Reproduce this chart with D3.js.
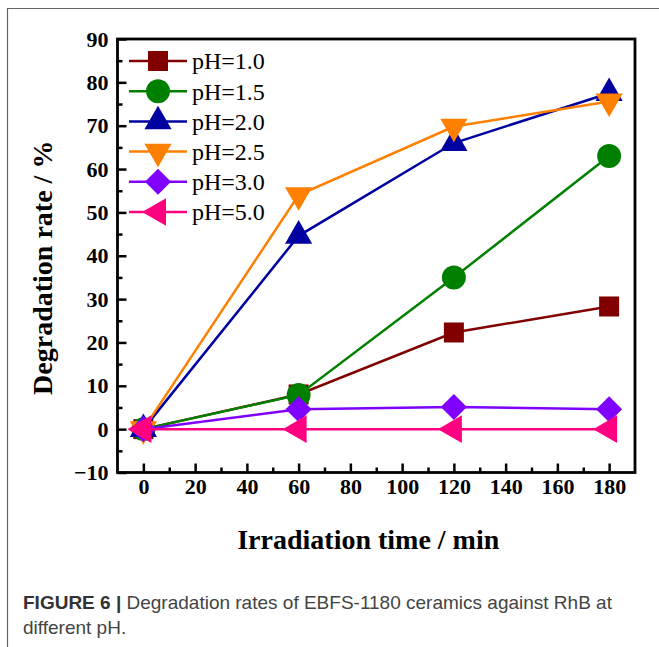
<!DOCTYPE html>
<html lang="en">
<head>
<meta charset="UTF-8">
<title>Degradation rate vs irradiation time</title>
<script src="https://d3js.org/d3.v7.min.js"></script>
<style>
    body { margin: 0; background: #fff; }
    svg { display: block; }
    .tick text { font-family: "Liberation Serif", "Times New Roman", serif; font-weight: bold; font-size: 22px; fill: #000; }
    .tick line { stroke: #000; stroke-width: 2.5; }
    .axis-title { font-family: "Liberation Serif", "Times New Roman", serif; font-weight: bold; font-size: 28px; }
    .legend text { font-family: "Liberation Serif", "Times New Roman", serif; font-size: 24px; }
    .caption { font-family: "Liberation Sans", Arial, sans-serif; font-size: 19px; fill: #444; }
</style>
</head>
<body>
<div id="chart"></div>
<script>
// data
var times = [0, 60, 120, 180];
var labels = ["pH=1.0", "pH=1.5", "pH=2.0", "pH=2.5", "pH=3.0", "pH=5.0"];
var ph10 = [0, 8, 22.3, 28.3];
var ph15 = [0, 7.9, 35, 63];
var ph20 = [0, 44.6, 66, 77.5];
var ph25 = [0, 54, 69.8, 75.6];
var ph30 = [0, 4.6, 5.1, 4.6];
var ph50 = [0, 0, 0, 0];
var xTicks = [0, 20, 40, 60, 80, 100, 120, 140, 160, 180];
var yTicks = [-10, 0, 10, 20, 30, 40, 50, 60, 70, 80, 90];

var width = 659, height = 647;
var plotLeft = 117.5, plotRight = 635, plotTop = 39, plotBottom = 472.5;

var series = [
    { name: labels[0], values: ph10, color: "#800000", shape: "square" },
    { name: labels[1], values: ph15, color: "#008000", shape: "circle" },
    { name: labels[2], values: ph20, color: "#0000a0", shape: "up" },
    { name: labels[3], values: ph25, color: "#ff8000", shape: "down" },
    { name: labels[4], values: ph30, color: "#8000ff", shape: "diamond" },
    { name: labels[5], values: ph50, color: "#ff0080", shape: "left" }
];

var svg = d3.select("#chart").append("svg")
    .attr("width", width)
    .attr("height", height);

svg.append("rect").attr("width", width).attr("height", height).attr("fill", "#fff");

// outer figure frame (top and left edges only visible)
svg.append("path")
    .attr("d", "M7.5," + height + "V8.5H" + width)
    .attr("fill", "none")
    .attr("stroke", "#666")
    .attr("stroke-width", 1.2);

var x = d3.scaleLinear().domain([-10, 190]).range([plotLeft, plotRight]);
var y = d3.scaleLinear().domain([-10, 90]).range([plotBottom, plotTop]);

// minor ticks
var xMinor = d3.range(10, 190, 20);
var yMinor = d3.range(-5, 90, 10);

svg.append("g")
    .attr("transform", "translate(0," + plotBottom + ")")
    .call(d3.axisBottom(x).tickValues(xMinor).tickSizeInner(-5).tickSizeOuter(0).tickFormat(""))
    .call(function(g) { g.select(".domain").remove(); });

svg.append("g")
    .attr("transform", "translate(" + plotLeft + ",0)")
    .call(d3.axisLeft(y).tickValues(yMinor).tickSizeInner(-5).tickSizeOuter(0).tickFormat(""))
    .call(function(g) { g.select(".domain").remove(); });

svg.append("g")
    .attr("transform", "translate(0," + plotBottom + ")")
    .call(d3.axisBottom(x).tickValues(xTicks).tickSizeInner(-9).tickSizeOuter(0).tickPadding(6))
    .call(function(g) { g.select(".domain").remove(); });

svg.append("g")
    .attr("transform", "translate(" + plotLeft + ",0)")
    .call(d3.axisLeft(y).tickValues(yTicks).tickSizeInner(-9).tickSizeOuter(0).tickPadding(9))
    .call(function(g) { g.select(".domain").remove(); });

// plot frame
svg.append("rect")
    .attr("x", plotLeft).attr("y", plotTop)
    .attr("width", plotRight - plotLeft).attr("height", plotBottom - plotTop)
    .attr("fill", "none")
    .attr("stroke", "#000")
    .attr("stroke-width", 2.8);

function marker(shape) {
    switch (shape) {
        case "square": return d3.symbol().type(d3.symbolSquare).size(400)();
        case "circle": return d3.symbol().type(d3.symbolCircle).size(450)();
        case "up": return d3.symbol().type(d3.symbolTriangle).size(320)();
        case "down": return d3.symbol().type(d3.symbolTriangle).size(320)();
        case "diamond": return d3.symbol().type(d3.symbolSquare).size(340)();
        case "left": return d3.symbol().type(d3.symbolTriangle).size(330)();
    }
}
var rotation = { square: 0, circle: 0, up: 0, down: 180, diamond: 45, left: -90 };

var line = d3.line()
    .x(function(d, i) { return x(times[i]); })
    .y(function(d) { return y(d); });

series.forEach(function(s) {
    var g = svg.append("g");
    g.append("path")
        .attr("d", line(s.values))
        .attr("fill", "none")
        .attr("stroke", s.color)
        .attr("stroke-width", 2.5);
    g.selectAll("path.mk")
        .data(s.values)
        .enter().append("path")
        .attr("class", "mk")
        .attr("d", marker(s.shape))
        .attr("fill", s.color)
        .attr("transform", function(d, i) {
            return "translate(" + x(times[i]) + "," + y(d) + ") rotate(" + rotation[s.shape] + ")";
        });
});

// legend
var legend = svg.selectAll(".legend")
    .data(series)
    .enter().append("g")
    .attr("class", "legend")
    .attr("transform", function(d, i) { return "translate(129," + (61 + i * 30.2) + ")"; });

legend.append("line")
    .attr("x1", 0).attr("x2", 58)
    .attr("stroke", function(d) { return d.color; })
    .attr("stroke-width", 2.5);

legend.append("path")
    .attr("d", function(d) { return marker(d.shape); })
    .attr("fill", function(d) { return d.color; })
    .attr("transform", function(d) { return "translate(29,0) rotate(" + rotation[d.shape] + ")"; });

legend.append("text")
    .attr("x", 63)
    .attr("dy", "0.35em")
    .text(function(d) { return d.name; });

// axis titles
svg.append("text")
    .attr("class", "axis-title")
    .attr("x", (plotLeft + plotRight) / 2 - 8)
    .attr("y", 549)
    .attr("text-anchor", "middle")
    .text("Irradiation time / min");

svg.append("text")
    .attr("class", "axis-title")
    .attr("transform", "translate(52," + ((plotTop + plotBottom) / 2 + 12) + ") rotate(-90)")
    .attr("text-anchor", "middle")
    .text("Degradation rate / %");

// caption
var cap = svg.append("text").attr("class", "caption").attr("x", 23).attr("y", 609);
cap.append("tspan").attr("font-weight", "bold").attr("fill", "#333").text("FIGURE 6 | ");
cap.append("tspan").text("Degradation rates of EBFS-1180 ceramics against RhB at");
svg.append("text").attr("class", "caption").attr("x", 23).attr("y", 634).text("different pH.");
</script>
</body>
</html>
